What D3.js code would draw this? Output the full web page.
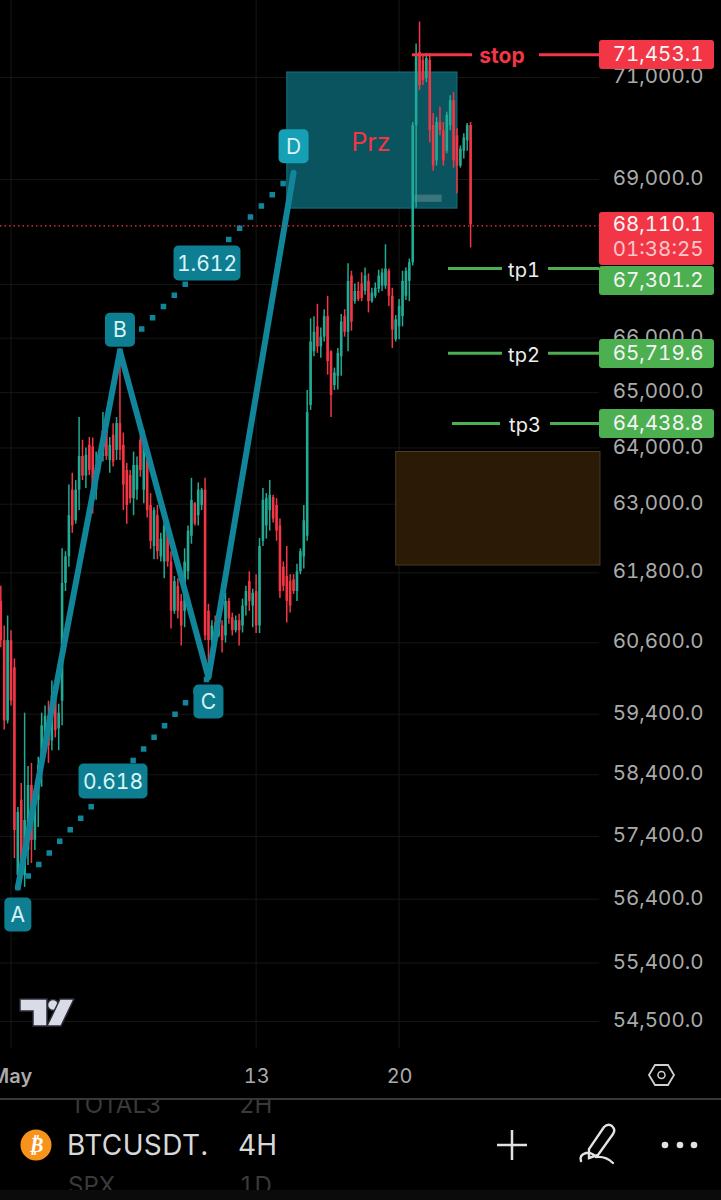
<!DOCTYPE html>
<meta charset="utf-8">
<style>
  html, body { margin: 0; padding: 0; background: #000; }
  svg { display: block; font-family: Inter, Roboto, sans-serif; font-variant-numeric: tabular-nums; font-feature-settings: "tnum"; }
</style>
<script src="https://cdn.jsdelivr.net/npm/d3@7"></script>
<div id="my_dataviz"></div>
<script>
// 4H candles, values
var opens = [61290,60620,59270,60620,60160,56760,57970,56760,57160,58210,57320,57970,58540,58860,59350,58940,59690,59140,59600,61600,62060,63230,62690,63230,63830,63480,64030,64000,63230,63650,63830,64300,63760,64210,63940,64420,64030,63580,63490,63080,63230,64120,63230,63760,62960,62240,62780,62060,61970,62600,61970,61120,61550,61290,61120,61800,62420,62990,62780,62960,63230,61120,60620,60920,60700,60870,60700,61290,61010,60790,60960,60870,61210,61630,61210,61460,60870,62330,62600,62870,63100,62960,62600,61880,61720,61630,61660,61460,61800,62060,62420,64750,65730,66190,65820,66000,66380,65730,65110,65280,65640,66380,66090,67140,66660,66850,66990,66850,67040,66660,66760,66890,66950,66950,67230,66760,65950,66190,66380,66760,67040,67390,70030,71480,71320,70960,71320,70030,69340,70090,69930,69530,70030,70520,69830,69240,69530,69730,70030];
var highs = [61550,60870,61040,60790,60310,57850,58240,59400,58520,58570,58130,58670,59400,59520,59600,59940,59770,59550,62200,62150,63320,63530,63400,64530,64120,63980,64170,64160,63910,63910,64620,64440,64170,64420,64530,65700,64250,63710,63580,63910,63820,64340,64300,63850,63170,62920,62960,62470,62690,62690,62150,61720,61680,61410,62200,62600,63440,63010,63360,63260,63440,61240,60960,61040,61010,60960,61430,61340,61090,61040,61070,61330,61550,61800,61500,61750,62380,63260,63170,63400,63140,63080,62720,61970,62240,61750,61750,61930,62200,62960,65020,66340,66380,66610,66170,66510,66760,65750,65430,65790,66420,66510,67370,67230,66990,67020,67200,67290,67180,66910,67010,67250,67270,67730,67270,66910,66400,66700,67230,67290,67460,70090,71650,72090,71420,71460,71460,70270,70190,70390,70090,70290,70620,70680,69970,69630,69870,70070,70090];
var lows = [60500,59120,59220,59520,57030,56640,56640,56570,56920,56950,57160,57530,58180,58730,58570,58780,58990,58780,59190,61460,61880,62470,62630,62870,63400,63260,63490,62810,63050,63530,63730,63760,63530,63640,63760,63760,62870,62630,62990,62780,63050,63460,62990,62740,62190,62010,62010,61970,61680,61880,60820,61070,60990,60530,60840,61660,62280,62600,62600,62870,60620,60230,60570,60620,60670,60410,60580,60900,60700,60750,60530,60750,61040,61120,60840,60740,60740,62240,62370,62510,62650,62330,61340,61460,60920,61090,61410,61290,61750,61850,62330,64660,65640,65700,65610,65910,65300,64530,65020,65030,65280,66000,65730,66110,66610,66660,66660,66780,66450,66630,66720,66820,66850,66890,66570,65790,65910,65950,66190,66680,66660,67330,68430,70720,70820,70880,69690,69140,69240,69830,69240,69480,69930,69200,68700,69200,69380,69530,67670];
var closes = [60620,59270,60620,59600,57480,57770,56760,57640,58210,57320,57970,58540,59190,59350,58860,59690,59110,59400,61600,62060,62780,62600,63230,63830,63480,63850,63580,63230,63670,63830,64300,63830,64030,63730,64420,63940,63320,62960,63080,63670,63670,63580,64030,62870,62330,62870,62150,62370,62600,61970,61120,61630,61120,60870,61970,62510,63050,62630,63230,63230,60700,60620,60870,60700,60920,60620,61290,60990,60790,60960,60790,61210,61460,61290,61430,60870,62240,63050,63080,63140,62720,62510,61460,61550,61290,61210,61460,61800,62150,62690,64620,65910,66090,65820,66000,66380,65550,64930,65340,65700,66280,66090,67040,66280,66850,66700,66720,67140,66660,66820,66910,67140,67200,67270,66760,66130,66320,66570,67040,67230,67390,70030,71420,70820,70920,71360,69930,69240,70090,69930,69340,70230,70520,69340,69240,69570,69790,70030,68110];

// bottom axis
var dayBars = [3, 75, 117];
var dayLabels = ["May", "13", "20"];

// price axis
var priceTicks = [71000, 69000, 67000, 66000, 65000, 64000, 63000, 61800, 60600, 59400, 58400, 57400, 56400, 55400, 54500];

// harmonic pattern A B C D
var patternNames = ["A", "B", "C", "D"];
var patternBars = [5, 35, 61, 86];
var patternPrices = [56560, 65730, 59990, 69100];

// boxes: [left bar, right bar, top price, bottom price]
var przBox = [84, 134, 71080, 68420];
var zoneBox = [116, 176, 63910, 61910];

// horizontal levels
var levelNames = ["stop", "tp1", "tp2", "tp3"];
var levelPrices = [71453.1, 67301.2, 65719.6, 64438.8];
var lastPrice = 68110.1;
var countdown = "01:38:25";

var RED = "#f23645", GREEN = "#22ab94", LEVEL_GREEN = "#4caf50", TEAL = "#11869b", GRID = "#161616";

var width = 721, height = 1200, plotRight = 599;

var svg = d3.select("#my_dataviz")
  .append("svg")
    .attr("width", width)
    .attr("height", height);

svg.append("rect").attr("width", width).attr("height", height).attr("fill", "#000");

var x = d3.scaleLinear().domain([0, 138]).range([0.8, 470.6]);
var y = d3.scaleLog().domain([71000, 54500]).range([77.5, 1021.5]);

// grid
svg.append("g").selectAll("line").data(priceTicks).enter().append("line")
    .attr("x1", 0).attr("x2", plotRight)
    .attr("y1", function(d) { return y(d); })
    .attr("y2", function(d) { return y(d); })
    .attr("stroke", GRID);
svg.append("g").selectAll("line").data(dayBars).enter().append("line")
    .attr("x1", function(d) { return x(d); })
    .attr("x2", function(d) { return x(d); })
    .attr("y1", 0).attr("y2", 1048)
    .attr("stroke", GRID);

var marks = svg.append("g").attr("transform", "translate(0,-1.5)");

function box(b, fill, stroke) {
  marks.append("rect")
    .attr("x", x(b[0]))
    .attr("y", y(b[2]))
    .attr("width", x(b[1]) - x(b[0]))
    .attr("height", y(b[3]) - y(b[2]))
    .attr("fill", fill)
    .attr("stroke", stroke);
}
box(zoneBox, "#2b1b06", "#4a3b22");
box(przBox, "#0a545f", "#14707c");

// small grey box inside the PRZ
marks.append("rect")
    .attr("x", x(121.5)).attr("width", x(129.5) - x(121.5))
    .attr("y", y(68680)).attr("height", y(68540) - y(68680))
    .attr("fill", "#4f8289").attr("opacity", 0.7);

// candles
var candles = marks.append("g").selectAll("g")
  .data(opens.map(function(d, i) { return i; }))
  .enter().append("g")
    .attr("transform", function(i) { return "translate(" + x(i) + ",0)"; });

candles.append("line")
    .attr("y1", function(i) { return y(highs[i]); })
    .attr("y2", function(i) { return y(lows[i]); })
    .attr("stroke", function(i) { return closes[i] >= opens[i] ? GREEN : RED; })
    .attr("stroke-width", 1.5);

candles.append("rect")
    .attr("x", -1.3)
    .attr("width", 2.6)
    .attr("y", function(i) { return y(Math.max(opens[i], closes[i])); })
    .attr("height", function(i) { return Math.abs(y(opens[i]) - y(closes[i])); })
    .attr("fill", function(i) { return closes[i] >= opens[i] ? GREEN : RED; });

// pattern
var points = patternBars.map(function(b, i) { return [x(b), y(patternPrices[i])]; });

marks.append("path")
    .attr("d", d3.line()(points))
    .attr("fill", "none")
    .attr("stroke", TEAL)
    .attr("stroke-width", 6)
    .attr("stroke-linejoin", "round")
    .attr("stroke-linecap", "round");

[[0, 2], [1, 3]].forEach(function(p) {
  marks.append("path")
    .attr("d", d3.line()([points[p[0]], points[p[1]]]))
    .attr("fill", "none")
    .attr("stroke", TEAL)
    .attr("stroke-width", 5.5)
    .attr("stroke-linecap", "square")
    .attr("stroke-dasharray", "0 15.6");
});

function tag(cx, cy, w, h, txt, fill) {
  svg.append("rect")
    .attr("x", cx - w / 2).attr("y", cy - h / 2)
    .attr("width", w).attr("height", h)
    .attr("rx", 5)
    .attr("fill", fill);
  svg.append("text")
    .attr("x", cx).attr("y", cy)
    .attr("dy", "0.36em")
    .attr("text-anchor", "middle")
    .attr("font-size", 21)
    .attr("fill", "#d9f3f6")
    .text(txt);
}

// ratio tags sit half way along the dotted lines
tag(113, 781, 69, 35, "0.618", "#0e7f92");
tag(207, 263, 67, 35, "1.612", "#0e7f92");

var tagOffsets = [[0, 25.5], [0, -23], [0, 22.5], [0, -28]];
patternNames.forEach(function(n, i) {
  tag(points[i][0] + tagOffsets[i][0], points[i][1] + tagOffsets[i][1], i == 0 ? 27 : 30, 34, n, i == 3 ? "#16a0b5" : "#0e7f92");
});

svg.append("text")
    .attr("x", 371).attr("y", 142)
    .attr("dy", "0.36em")
    .attr("text-anchor", "middle")
    .attr("font-size", 25)
    .attr("fill", RED)
    .text("Prz");

// dotted last price line
svg.append("line")
    .attr("x1", 0).attr("x2", plotRight)
    .attr("y1", y(lastPrice)).attr("y2", y(lastPrice))
    .attr("stroke", RED)
    .attr("stroke-width", 1.2)
    .attr("stroke-dasharray", "1.5 3");

// price axis
var priceAxis = svg.append("g")
    .attr("transform", "translate(703.5,-1.5)")
    .call(d3.axisLeft(y).tickValues(priceTicks).tickSize(0).tickFormat(d3.format(",.1f")));
priceAxis.select(".domain").remove();
priceAxis.selectAll("text")
    .attr("x", 0)
    .attr("font-family", "Inter, Roboto, sans-serif")
    .attr("font-size", 20.5)
    .attr("fill", "#aaaaaa");

// time axis
var timeAxis = svg.append("g")
    .attr("transform", "translate(0,1066)")
    .call(d3.axisBottom(x).tickValues(dayBars).tickSize(0).tickFormat(function(d, i) { return dayLabels[i]; }));
timeAxis.select(".domain").remove();
timeAxis.selectAll("text")
    .attr("font-family", "Inter, Roboto, sans-serif")
    .attr("font-size", 20)
    .attr("fill", "#aaaaaa");
timeAxis.select(".tick text").attr("font-weight", 600);

// level lines with their name
var levelStart = [412, 448, 448, 452];
var levelGapL = [472, 502, 502, 500];
var levelGapR = [539, 548, 548, 550];
var levelTextX = [502, 524, 524, 525];

levelNames.forEach(function(n, i) {
  var c = i == 0 ? RED : LEVEL_GREEN, yy = y(levelPrices[i]);
  [[levelStart[i], levelGapL[i]], [levelGapR[i], plotRight]].forEach(function(s) {
    svg.append("line")
      .attr("x1", s[0]).attr("x2", s[1])
      .attr("y1", yy).attr("y2", yy)
      .attr("stroke", c)
      .attr("stroke-width", 3);
  });
  svg.append("text")
    .attr("x", levelTextX[i]).attr("y", yy + 1)
    .attr("dy", "0.36em")
    .attr("text-anchor", "middle")
    .attr("font-size", i == 0 ? 21 : 20)
    .attr("font-weight", i == 0 ? 700 : 400)
    .attr("fill", i == 0 ? RED : "#eeeeee")
    .text(n);
});

// price pills; tp1 gets pushed below the last price pill
var pillTop = [40, 266, 339, 409];
levelPrices.forEach(function(p, i) {
  svg.append("rect")
    .attr("x", plotRight).attr("y", pillTop[i])
    .attr("width", 115).attr("height", 29)
    .attr("rx", 3)
    .attr("fill", i == 0 ? RED : LEVEL_GREEN);
  svg.append("text")
    .attr("x", 703.5).attr("y", pillTop[i] + 13.5)
    .attr("dy", "0.36em")
    .attr("text-anchor", "end")
    .attr("font-size", 20.5)
    .attr("fill", "#f4f4f4")
    .text(d3.format(",.1f")(p));
});

svg.append("rect")
    .attr("x", plotRight).attr("y", 212)
    .attr("width", 115).attr("height", 53)
    .attr("rx", 3)
    .attr("fill", RED);
svg.append("text")
    .attr("x", 703.5).attr("y", 224)
    .attr("dy", "0.36em")
    .attr("text-anchor", "end")
    .attr("font-size", 20.5)
    .attr("fill", "#f6f6f6")
    .text(d3.format(",.1f")(lastPrice));
svg.append("text")
    .attr("x", 703.5).attr("y", 249)
    .attr("dy", "0.36em")
    .attr("text-anchor", "end")
    .attr("font-size", 20.5)
    .attr("fill", "#fbc6cb")
    .text(countdown);

// logo
var logo = svg.append("g").attr("fill", "#d9dce6").attr("stroke", "#2a2d38").attr("stroke-width", 1.5);
logo.append("path").attr("d", "M20 999H47V1026H33V1011H20Z");
logo.append("circle").attr("cx", 53).attr("cy", 1005).attr("r", 5.5);
logo.append("path").attr("d", "M60 999H74L61 1026H47Z");

// settings hexagon
svg.append("path")
    .attr("d", "M649 1075L655 1065H668L674 1075L668 1085H655Z")
    .attr("fill", "none").attr("stroke", "#cfcfcf").attr("stroke-width", 1.8);
svg.append("circle")
    .attr("cx", 661.5).attr("cy", 1075).attr("r", 3.5)
    .attr("fill", "none").attr("stroke", "#cfcfcf").attr("stroke-width", 1.5);

// bottom bar
svg.append("line")
    .attr("x1", 0).attr("x2", width)
    .attr("y1", 1099).attr("y2", 1099)
    .attr("stroke", "#4a4a4a").attr("stroke-width", 1.5);

svg.append("clipPath").attr("id", "bar")
  .append("rect").attr("x", 0).attr("y", 1100).attr("width", width).attr("height", 90);

var faded = svg.append("g").attr("clip-path", "url(#bar)")
    .attr("font-size", 24).attr("fill", "#3a3a3a");
faded.append("text").attr("x", 70).attr("y", 1113).text("TOTAL3");
faded.append("text").attr("x", 239).attr("y", 1113).text("2H");
faded.append("text").attr("x", 68).attr("y", 1194).text("SPX");
faded.append("text").attr("x", 239).attr("y", 1194).text("1D");

svg.append("rect").attr("x", 0).attr("y", 1190).attr("width", width).attr("height", 10).attr("fill", "#0b0b0b");

svg.append("circle").attr("cx", 36).attr("cy", 1145).attr("r", 15.5).attr("fill", "#f7931a");
svg.append("text")
    .attr("x", 36).attr("y", 1145)
    .attr("dy", "0.36em")
    .attr("text-anchor", "middle")
    .attr("font-size", 20)
    .attr("font-weight", 700)
    .attr("font-style", "italic")
    .attr("font-family", "DejaVu Sans")
    .attr("fill", "#fff")
    .text("₿");

svg.append("text").attr("x", 67).attr("y", 1155).attr("font-size", 28).attr("letter-spacing", 0.4).attr("fill", "#d8d8d8").text("BTCUSDT.");
svg.append("text").attr("x", 238).attr("y", 1155).attr("font-size", 28).attr("fill", "#d8d8d8").text("4H");

svg.append("path")
    .attr("d", "M512 1130V1160M497 1145H527")
    .attr("stroke", "#e2e2e2").attr("stroke-width", 2.5);

// pen icon
svg.append("path")
    .attr("d", "M604 1127Q608 1123 612 1126Q616 1130 613 1134L598 1155L589 1158L589 1149ZM581 1161Q579 1155 586 1153Q592 1152 596 1157Q606 1156 613 1163")
    .attr("fill", "none").attr("stroke", "#e2e2e2").attr("stroke-width", 2.4).attr("stroke-linecap", "round");

svg.append("g").selectAll("circle").data([665, 680, 694]).enter().append("circle")
    .attr("cx", function(d) { return d; })
    .attr("cy", 1145)
    .attr("r", 3.3)
    .attr("fill", "#e2e2e2");
</script>
